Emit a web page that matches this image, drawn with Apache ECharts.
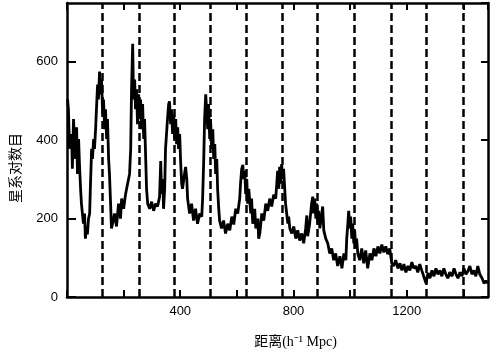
<!DOCTYPE html>
<html>
<head>
<meta charset="utf-8">
<script src="https://cdn.jsdelivr.net/npm/echarts@6/dist/echarts.min.js"></script>
<style>
  html, body { margin: 0; padding: 0; background: #fff; }
  #chart { width: 496px; height: 354px; }
</style>
</head>
<body>
<div id="chart"></div>
<script>
// distance along the pencil beam (h^-1 Mpc) and galaxy pair counts
const distance = [
  2, 5, 9, 16, 19, 23, 30, 34, 37, 41, 44, 48, 51, 58, 62, 65, 69, 72, 76, 80,
  83, 87, 90, 94, 97, 101, 104, 108, 111, 115, 118, 122, 126, 129, 133, 136, 140, 143, 147, 150,
  154, 157, 161, 168, 175, 182, 189, 193, 200, 207, 214, 221, 225, 228, 232, 235, 239, 242, 246, 249,
  253, 256, 260, 263, 267, 271, 274, 278, 281, 285, 292, 299, 306, 313, 320, 327, 331, 334, 338, 341,
  345, 348, 355, 359, 362, 366, 369, 373, 377, 380, 384, 387, 391, 394, 398, 401, 405, 408, 415, 419,
  423, 426, 433, 440, 447, 454, 461, 469, 476, 479, 483, 486, 490, 493, 497, 500, 504, 507, 511, 515,
  518, 522, 525, 529, 532, 536, 539, 546, 553, 560, 568, 575, 582, 589, 596, 603, 610, 613, 617, 621,
  624, 628, 631, 635, 638, 642, 649, 652, 656, 663, 667, 674, 677, 681, 688, 695, 702, 709, 716, 723,
  730, 737, 741, 744, 748, 751, 755, 758, 762, 765, 769, 772, 776, 780, 783, 787, 794, 801, 808, 815,
  822, 829, 836, 843, 847, 850, 857, 864, 868, 871, 875, 879, 882, 886, 889, 893, 900, 903, 907, 914,
  921, 928, 935, 942, 949, 956, 964, 971, 978, 985, 988, 992, 995, 999, 1002, 1006, 1009, 1013, 1016, 1020,
  1023, 1027, 1034, 1041, 1048, 1055, 1062, 1070, 1077, 1084, 1091, 1098, 1105, 1112, 1119, 1126, 1133, 1140, 1147, 1154,
  1161, 1169, 1176, 1183, 1190, 1197, 1204, 1211, 1218, 1225, 1232, 1239, 1246, 1253, 1260, 1268, 1275, 1282, 1289, 1296,
  1303, 1310, 1317, 1324, 1331, 1338, 1345, 1352, 1360, 1367, 1374, 1381, 1388, 1395, 1402, 1409, 1416, 1423, 1430, 1437,
  1444, 1451, 1458, 1466, 1473, 1480, 1487
];
const counts = [
  504, 479, 378, 416, 327, 454, 352, 433, 314, 403, 339, 276, 238, 187, 213, 149, 180, 160, 200, 213,
  289, 378, 352, 403, 378, 428, 479, 542, 504, 575, 517, 555, 466, 504, 428, 479, 403, 454, 352, 314,
  238, 175, 187, 213, 180, 238, 200, 251, 225, 263, 289, 314, 378, 530, 646, 504, 555, 479, 530, 441,
  517, 454, 504, 428, 492, 403, 454, 352, 276, 238, 225, 243, 220, 238, 231, 256, 347, 263, 301, 225,
  276, 378, 454, 492, 499, 441, 479, 416, 466, 403, 454, 390, 433, 378, 416, 352, 289, 276, 314, 332,
  301, 251, 213, 238, 195, 225, 187, 213, 205, 251, 352, 454, 517, 479, 428, 492, 403, 454, 378, 428,
  352, 390, 314, 352, 276, 225, 195, 175, 195, 162, 187, 170, 205, 185, 225, 213, 251, 289, 327, 337,
  301, 322, 263, 301, 238, 276, 213, 251, 187, 225, 175, 200, 149, 162, 213, 195, 238, 220, 251, 231,
  261, 251, 289, 322, 276, 332, 289, 339, 301, 327, 276, 238, 213, 187, 205, 175, 162, 180, 149, 170,
  144, 162, 137, 175, 208, 155, 187, 238, 256, 213, 251, 200, 238, 187, 220, 175, 213, 231, 170, 149,
  137, 111, 124, 94, 111, 79, 104, 73, 111, 94, 149, 187, 220, 175, 205, 149, 187, 137, 170, 124,
  149, 111, 94, 124, 86, 119, 73, 111, 94, 124, 104, 129, 111, 134, 114, 129, 109, 124, 86, 79,
  94, 73, 86, 68, 84, 63, 79, 68, 89, 73, 79, 63, 84, 68, 53, 35, 61, 48, 68, 53,
  73, 58, 68, 53, 73, 58, 48, 63, 53, 73, 58, 48, 63, 53, 73, 58, 66, 79, 58, 68,
  53, 79, 58, 48, 35, 41, 35
];
// positions of the dashed reference lines (h^-1 Mpc)
const dashedAt = [124, 254, 380, 506, 634, 760, 885, 1013, 1144, 1270, 1398];
const xTickLabels = [400, 800, 1200];
const yTickLabels = [0, 200, 400, 600];

const points = distance.map((d, i) => [d, counts[i]]);

const frame = { show: true, onZero: false, lineStyle: { color: '#000', width: 2.5 } };
const ticksIn = { show: true, inside: true, length: 7, lineStyle: { color: '#000', width: 2 } };

let myChart = echarts.init(document.getElementById('chart'));
myChart.setOption({
  animation: false,
  backgroundColor: '#fff',
  grid: { left: 67, right: 8, top: 3, bottom: 55 },
  xAxis: [{
    type: 'value',
    min: 0,
    max: 1487,
    interval: 200,
    axisLine: frame,
    axisTick: ticksIn,
    splitLine: { show: false },
    axisLabel: {
      showMaxLabel: false,
      margin: 8,
      color: '#000',
      fontSize: 13,
      fontFamily: 'Liberation Sans',
      formatter(v) { return xTickLabels.includes(v) ? String(v) : ''; }
    },
    name: '距离(h⁻¹ Mpc)',
    nameLocation: 'middle',
    nameGap: 38,
    nameTextStyle: {
      color: '#000',
      fontSize: 14,
      fontFamily: 'Liberation Serif, Noto Sans CJK SC',
      padding: [0, 0, 0, 36]
    }
  }, {
    type: 'value',
    position: 'top',
    min: 0,
    max: 1487,
    interval: 200,
    axisLine: frame,
    axisTick: ticksIn,
    axisLabel: { show: false },
    splitLine: { show: false }
  }],
  yAxis: [{
    type: 'value',
    min: 0,
    max: 750,
    interval: 200,
    axisLine: frame,
    axisTick: Object.assign({}, ticksIn, { length: 9 }),
    splitLine: { show: false },
    axisLabel: {
      showMaxLabel: false,
      margin: 9,
      color: '#000',
      fontSize: 13,
      fontFamily: 'Liberation Sans',
      formatter(v) { return yTickLabels.includes(v) ? String(v) : ''; }
    },
    name: '星系对数目',
    nameLocation: 'middle',
    nameGap: 45,
    nameTextStyle: {
      color: '#000',
      fontSize: 14,
      fontFamily: 'Noto Sans CJK SC',
      padding: [0, 36, 0, 0]
    }
  }, {
    type: 'value',
    position: 'right',
    min: 0,
    max: 750,
    interval: 200,
    axisLine: frame,
    axisTick: ticksIn,
    axisLabel: { show: false },
    splitLine: { show: false }
  }],
  series: [{
    type: 'line',
    data: points,
    symbol: 'none',
    lineStyle: { color: '#000', width: 2.8 },
    markLine: {
      silent: true,
      symbol: 'none',
      label: { show: false },
      lineStyle: { color: '#000', width: 2.5, type: [8, 4] },
      data: dashedAt.map(x => ({ xAxis: x }))
    }
  }]
});
</script>
</body>
</html>
